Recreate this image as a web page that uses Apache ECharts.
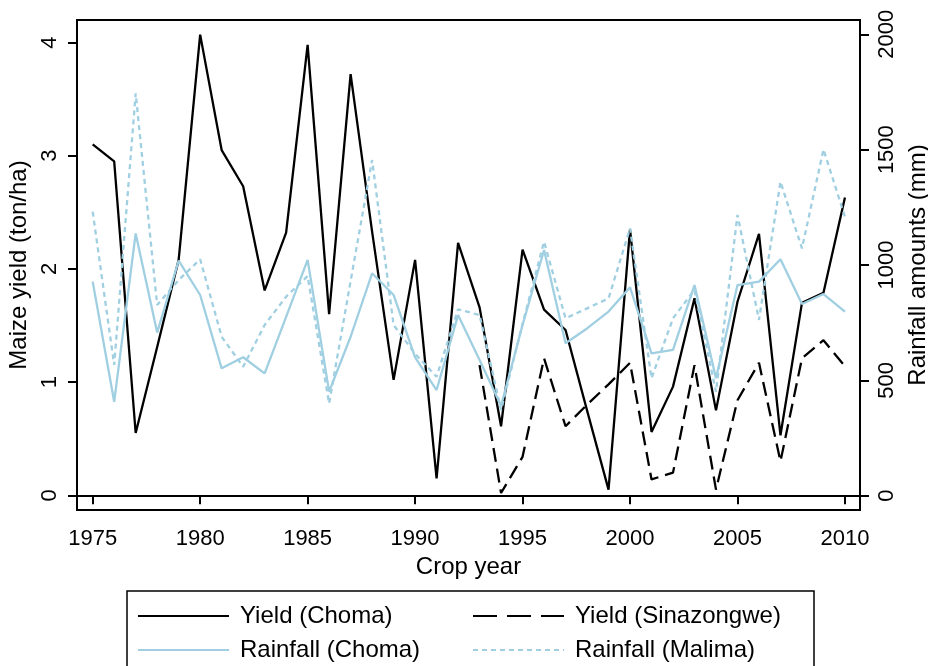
<!DOCTYPE html>
<html>
<head>
<meta charset="utf-8">
<script src="https://cdn.jsdelivr.net/npm/echarts@6/dist/echarts.min.js"></script>
<style>
  html, body { margin: 0; padding: 0; background: #fff; }
  #chart { width: 928px; height: 666px; }
</style>
</head>
<body>
<div id="chart"></div>
<script>
'use strict';

// crop years
const years = [1975, 1976, 1977, 1978, 1979, 1980, 1981, 1982, 1983, 1984,
    1985, 1986, 1987, 1988, 1989, 1990, 1991, 1992, 1993, 1994,
    1995, 1996, 1997, 1998, 1999, 2000, 2001, 2002, 2003, 2004,
    2005, 2006, 2007, 2008, 2009, 2010]

// maize yield, ton/ha
const yieldChoma = [3.10, 2.95, 0.55, 1.31, 2.08, 4.07, 3.05, 2.73, 1.81, 2.32,
    3.98, 1.60, 3.72, 2.33, 1.02, 2.08, 0.15, 2.23, 1.66, 0.61,
    2.17, 1.64, 1.46, 0.75, 0.05, 2.35, 0.56, 0.96, 1.74, 0.75,
    1.71, 2.31, 0.53, 1.70, 1.79, 2.63]
const yieldSinazongwe = [null, null, null, null, null, null, null, null, null, null,
    null, null, null, null, null, null, null, null, 1.15, 0.02,
    0.34, 1.21, 0.61, 0.80, 0.98, 1.17, 0.14, 0.20, 1.15, 0.05,
    0.84, 1.17, 0.30, 1.21, 1.37, 1.14]

// rainfall, mm
const rainChoma = [928, 407, 1137, 707, 1019, 870, 552, 600, 530, 775,
    1022, 451, 689, 964, 870, 600, 458, 783, 588, 390,
    740, 1065, 661, 725, 798, 903, 617, 632, 913, 509,
    913, 928, 1025, 831, 874, 798]
const rainMalima = [1231, 567, 1744, 827, 935, 1025, 689, 559, 740, 863,
    952, 400, 930, 1455, 740, 615, 516, 808, 783, 371,
    745, 1101, 769, 812, 855, 1159, 509, 769, 892, 451,
    1217, 762, 1361, 1072, 1501, 1209]

// tick labels
const xTicks = [1975, 1980, 1985, 1990, 1995, 2000, 2005, 2010]
const yieldTicks = [0, 1, 2, 3, 4]
const rainTicks = [0, 500, 1000, 1500, 2000]

const FONT = "'Liberation Sans', Arial, Helvetica, sans-serif"
const BLUE = '#9fcfe1'

const pairs = (vals) => years.map((y, i) => [y, vals[i]])

const container = document.getElementById('chart')
const myChart = echarts.init(container, null, { renderer: 'canvas' })

const lineSeries = (name, vals, color, type, yIndex) => ({
    name: name,
    type: 'line',
    yAxisIndex: yIndex,
    symbol: 'none',
    connectNulls: false,
    animation: false,
    lineStyle: { color: color, width: 2.3, type: type },
    itemStyle: { color: color },
    data: pairs(vals)
})

// one legend per entry so the two columns line up like the original
const legendItem = (name, left, top, dash) => ({
    orient: 'vertical',
    left: left,
    top: top,
    padding: 0,
    itemWidth: 91,
    itemHeight: 12,
    itemStyle: { opacity: 0 },
    textStyle: { fontSize: 24, fontFamily: FONT, color: '#000', padding: [0, 0, 0, 6] },
    data: [dash ? { name: name, lineStyle: { type: dash } } : name]
})

const axisText = { fontSize: 22, fontFamily: FONT, color: '#000' }
const nameText = { fontSize: 24, fontFamily: FONT, color: '#000' }
const blackLine = { color: '#000', width: 2 }

const option = {
    backgroundColor: '#fff',
    textStyle: { fontFamily: FONT, color: '#000' },
    grid: {
        left: 77, right: 68, top: 20, bottom: 156,
        outerBoundsMode: 'none',
        containLabel: false,
        show: true, borderColor: '#000', borderWidth: 2
    },
    xAxis: {
        type: 'value',
        min: 1974.27,
        max: 2010.70,
        name: 'Crop year',
        nameLocation: 'middle',
        nameGap: 44,
        nameTextStyle: nameText,
        axisLine: { show: true, lineStyle: blackLine },
        axisTick: { show: true, length: 9, lineStyle: blackLine, customValues: xTicks },
        axisLabel: Object.assign({ margin: 18, customValues: xTicks, formatter: v => String(v) }, axisText),
        splitLine: { show: false }
    },
    yAxis: [{
        type: 'value',
        position: 'left',
        min: -0.13,
        max: 4.199,
        name: 'Maize yield (ton/ha)',
        nameLocation: 'middle',
        nameRotate: 90,
        nameGap: 30,
        nameTextStyle: nameText,
        axisLine: { show: true, lineStyle: blackLine },
        axisTick: { show: true, length: 9, lineStyle: blackLine, customValues: yieldTicks },
        axisLabel: Object.assign({ rotate: 90, margin: 16, customValues: yieldTicks, formatter: v => String(v) }, axisText),
        splitLine: { show: false }
    }, {
        type: 'value',
        position: 'right',
        min: -62,
        max: 2062,
        name: 'Rainfall amounts (mm)',
        nameLocation: 'middle',
        nameRotate: 90,
        nameGap: 44,
        nameTextStyle: nameText,
        axisLine: { show: true, lineStyle: blackLine },
        axisTick: { show: true, length: 9, lineStyle: blackLine, customValues: rainTicks },
        axisLabel: Object.assign({ rotate: 90, margin: 16, customValues: rainTicks, formatter: v => String(v) }, axisText),
        splitLine: { show: false }
    }],
    graphic: [{
        type: 'rect',
        shape: { x: 127, y: 591, width: 687, height: 90 },
        style: { fill: 'none', stroke: '#000', lineWidth: 1.5 },
        silent: true
    }],
    legend: [
        legendItem('Yield (Choma)', 137, 604),
        legendItem('Rainfall (Choma)', 137, 638),
        legendItem('Yield (Sinazongwe)', 472, 604, [24, 10]),
        legendItem('Rainfall (Malima)', 472, 638, [5, 4])
    ],
    series: [
        lineSeries('Yield (Choma)', yieldChoma, '#000', 'solid', 0),
        lineSeries('Yield (Sinazongwe)', yieldSinazongwe, '#000', [14, 7], 0),
        lineSeries('Rainfall (Choma)', rainChoma, BLUE, 'solid', 1),
        lineSeries('Rainfall (Malima)', rainMalima, BLUE, [5, 4], 1)
    ]
}

myChart.setOption(option)
</script>
</body>
</html>
